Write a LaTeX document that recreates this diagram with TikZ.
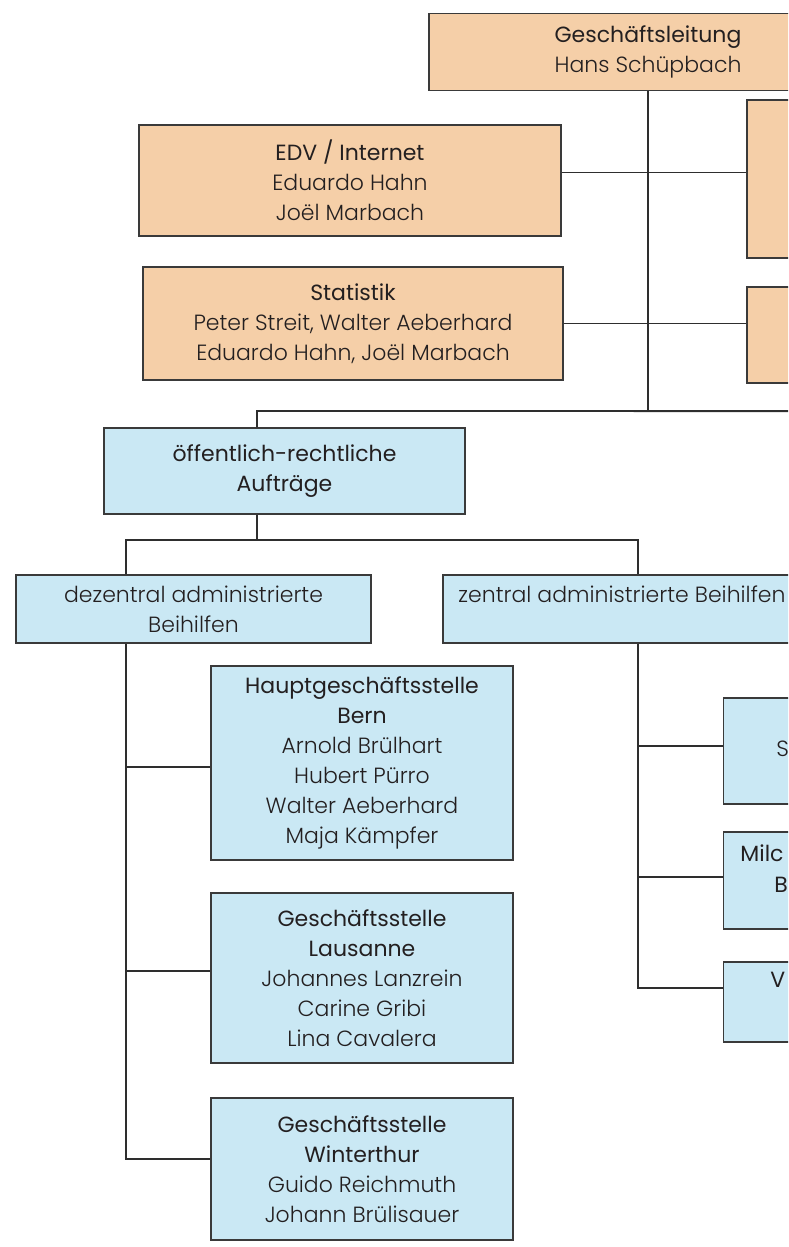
\documentclass[tikz,border=0pt]{standalone}
\usepackage{fontspec}
\setmainfont{Poppins}
\newfontfamily\namefont{Poppins Light}
\usetikzlibrary{positioning}

\definecolor{orgfill}{HTML}{F5CFA8}
\definecolor{bluefill}{HTML}{CAE8F4}
\definecolor{boxline}{HTML}{3A3A3A}
\definecolor{textdark}{HTML}{231F20}
\definecolor{linegray}{HTML}{2E2E2E}

\newcommand{\kopf}[1]{{\normalfont #1}}

\begin{document}
\begin{tikzpicture}[x=0.5pt, y=-0.5pt]
  \tikzset{orgbox/.style = {draw=boxline, fill=orgfill, line width=0.6pt, align=center,
      inner sep=0pt, text=textdark, font=\namefont\fontsize{11}{15}\selectfont}}
  \tikzset{bluebox/.style = {orgbox, fill=bluefill}}
  \tikzset{conn/.style = {draw=linegray, line width=0.9pt}}
  \tikzset{cut/.style = {anchor=base west, inner sep=0pt, text=textdark,
      font=\fontsize{11}{15}\selectfont}}

  \useasboundingbox (0,0) rectangle (788,1247);
  \clip (0,0) rectangle (788,1247);

  %%%%%%%%%%%% Geschaeftsleitung und Stab

  \node[orgbox, minimum width=219pt, minimum height=38.5pt] (gl) at (648,52)
  {\kopf{Geschäftsleitung}\\ Hans Schüpbach};

  \node[orgbox, minimum width=211pt, minimum height=55.5pt] (edv) at (350,180.5)
  {\kopf{EDV / Internet}\\ Eduardo Hahn\\ Joël Marbach};
  \node[orgbox, minimum width=211pt, minimum height=79pt] (rechtsa) at (958,179) {};

  \node[orgbox, minimum width=210pt, minimum height=56.5pt] (stat) at (353,323.5)
  {\kopf{Statistik}\\ Peter Streit, Walter Aeberhard\\ Eduardo Hahn, Joël Marbach};
  \node[orgbox, minimum width=211pt, minimum height=48pt] (rechtsb) at (958,335) {};

  \draw[conn] (gl.south) -- ++(0,320) coordinate (knot);
  \draw[conn] ([yshift=4pt]edv.east) -- ([yshift=4pt]edv.east -| rechtsa.west);
  \draw[conn] (stat.east) -- (stat.east -| rechtsb.west);

  %%%%%%%%%%%% oeffentlich-rechtliche Auftraege

  \coordinate (ka) at (257,411);
  \node[bluebox, minimum width=180.5pt, minimum height=43pt] (oeff) at (284.5,471)
  {\kopf{öffentlich-rechtliche}\\ \kopf{Aufträge}};
  \draw[conn] (oeff.north -| ka) -- (ka) -- (knot) -- (knot -| rechtsa.east);

  \coordinate (kdez) at (126,540);
  \coordinate (kzen) at (638,540);
  \node[bluebox, minimum width=177.5pt, minimum height=34pt] (dez) at (193.5,609)
  {dezentral administrierte\\ Beihilfen};
  \node[bluebox, minimum width=179pt, minimum height=34pt] (zen) at (622,609)
  {zentral administrierte Beihilfen\\ \mbox{}};
  \draw[conn] (oeff.south -| ka) -- (ka |- kdez);
  \draw[conn] (dez.north -| kdez) -- (kdez) -- (kzen) -- (zen.north -| kzen);

  %%%%%%%%%%%% dezentral

  \node[bluebox, minimum width=151pt, minimum height=97pt] (bern) at (362,763)
  {\kopf{Hauptgeschäftsstelle}\\ \kopf{Bern}\\ Arnold Brülhart\\ Hubert Pürro\\
    Walter Aeberhard\\ Maja Kämpfer};
  \node[bluebox, minimum width=151pt, minimum height=85pt] (laus) at (362,978)
  {\kopf{Geschäftsstelle}\\ \kopf{Lausanne}\\ Johannes Lanzrein\\ Carine Gribi\\
    Lina Cavalera};
  \node[bluebox, minimum width=151pt, minimum height=71pt] (wint) at (362,1169)
  {\kopf{Geschäftsstelle}\\ \kopf{Winterthur}\\ Guido Reichmuth\\ Johann Brülisauer};

  \coordinate (bernin) at ([yshift=-2pt]bern.west);
  \coordinate (lausin) at ([yshift=3.5pt]laus.west);
  \coordinate (wintin) at ([yshift=5pt]wint.west);
  \draw[conn] (dez.south -| kdez) -- (kdez |- wintin) -- (wintin);
  \draw[conn] (kdez |- bernin) -- (bernin);
  \draw[conn] (kdez |- lausin) -- (lausin);

  %%%%%%%%%%%% zentral

  \node[bluebox, minimum width=151pt, minimum height=53pt, anchor=west] (silo) at (723,751) {};
  \node[bluebox, minimum width=151pt, minimum height=48.5pt, anchor=west] (milch) at (723,880.5) {};
  \node[bluebox, minimum width=151pt, minimum height=40pt, anchor=west] (vk) at (723,1002) {};

  \node[cut] (silotxt) at (776,756) {\namefont S};
  \node[cut] (milchtxt) at (740,861) {Milc};
  \node[cut] (milchtxtb) at (774,892) {B};
  \node[cut] (vktxt) at (770,987) {V};

  \coordinate (siloin) at ([yshift=2.5pt]silo.west);
  \coordinate (milchin) at ([yshift=1.75pt]milch.west);
  \coordinate (vkin) at ([yshift=7pt]vk.west);
  \draw[conn] (zen.south -| kzen) -- (kzen |- vkin) -- (vkin);
  \draw[conn] (kzen |- siloin) -- (siloin);
  \draw[conn] (kzen |- milchin) -- (milchin);

\end{tikzpicture}
\end{document}
